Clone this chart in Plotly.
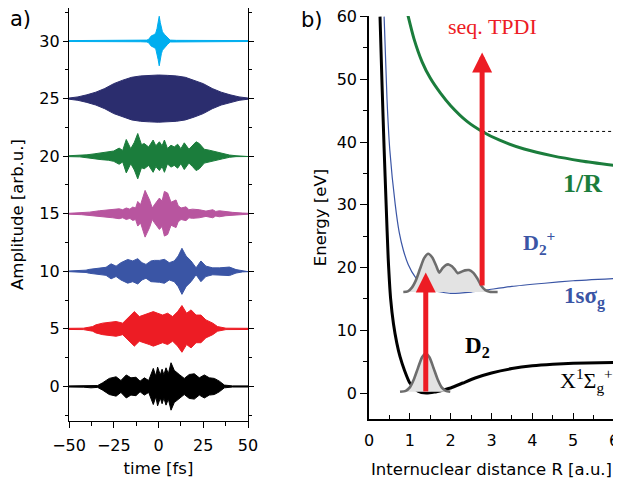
import plotly.graph_objects as go

# ---------------- panel a) data: envelope amplitudes of the pulses ----------------
offsets = [0, 5, 10, 15, 20, 25, 30]
colors = ["#000000", "#ed1c24", "#3a55a5", "#b8559f", "#1b7d3c", "#2b2d6e", "#00aeef"]

black_t = [-50, -42, -37.7, -34, -31.2, -27.5, -23.7, -21, -18, -15.4, -12.6, -10.3, -7.9, -5.5, -2.9, -1.5,
           -0.5, 1, 2, 3, 4.2, 5.5, 7, 8.8, 11.6, 14.4, 17.2, 20, 22.8, 25.6, 28.4, 31.2, 34, 36.8, 41.4, 50]
black_a = [0.05, 0.06, 0.12, 0.08, 0.32, 0.7, 0.84, 0.52, 1.0, 0.75, 0.8, 0.46, 0.75, 0.52, 1.57, 0.9,
           1.68, 1.0, 1.5, 1.0, 1.62, 1.1, 2.06, 1.4, 1.04, 0.7, 1.04, 1.1, 0.75, 1.0, 0.75, 0.7, 0.46, 0.12, 0.05, 0.05]

red_t = [-50, -42, -36.8, -35, -31.2, -27.5, -23.7, -20, -16.3, -13.5, -10.7, -7.9, -5.1, -2.9, -0.5, 2.3,
         5.1, 7.9, 10.7, 13.1, 15.7, 18.2, 21, 23.7, 26.5, 30.3, 33, 37.7, 50]
red_a = [0.05, 0.06, 0.2, 0.35, 0.5, 0.58, 0.64, 0.5, 1.07, 1.5, 1.07, 1.2, 1.36, 1.5, 1.36, 1.2,
         1.36, 1.07, 1.5, 2.03, 1.36, 1.65, 1.2, 1.2, 0.78, 0.5, 0.2, 0.06, 0.05]

blue_t = [-50, -45, -40.5, -38.6, -33, -29.3, -26.5, -23.7, -21, -17.2, -14.4, -11.6, -9.2, -7, -4.2, -2.3,
          0.5, 3.3, 6, 8.8, 11, 13.1, 15.4, 18.2, 21, 23.7, 26.5, 30.3, 34, 39.6, 43.3, 47, 50]
blue_a = [0.03, 0.05, 0.1, 0.17, 0.3, 0.35, 0.65, 0.45, 0.75, 1.03, 0.9, 1.1, 0.75, 0.6, 0.9, 0.95,
          0.95, 1.04, 0.75, 0.9, 1.33, 2.0, 1.33, 0.9, 0.3, 0.9, 0.45, 0.3, 0.3, 0.37, 0.15, 0.05, 0.03]

magenta_t = [-50, -43, -38.6, -33, -29, -25.6, -22, -20, -18, -16, -14.4, -12.8, -11.6, -10, -7.5, -5,
             -3.5, -2.3, 0.5, 2, 3.3, 5.1, 7, 9.8, 11, 12.6, 15.4, 17, 19, 22.8, 26.5, 30.3, 32, 34,
             37.7, 41.4, 47, 50]
magenta_a = [0.04, 0.08, 0.14, 0.26, 0.3, 0.35, 0.43, 0.35, 0.5, 0.4, 0.58, 0.5, 1.07, 0.8, 2.03, 1.2,
             0.5, 0.78, 1.36, 1.1, 1.94, 1.8, 1.0, 1.2, 0.7, 0.5, 0.6, 0.35, 0.4, 0.35, 0.23, 0.35, 0.2, 0.26,
             0.17, 0.12, 0.06, 0.04]

green_t = [-50, -44, -40, -36, -32, -28, -25, -22, -20, -18, -15.5, -13.5, -11.6, -9.5, -8, -5.5, -3,
           -1.5, 0.5, 2, 3.3, 5, 7, 8.8, 10.7, 12.5, 14.4, 17, 19, 21, 22.8, 25.6, 28.4, 32, 35.8, 39.6,
           43.3, 50]
green_a = [0.04, 0.06, 0.12, 0.2, 0.3, 0.35, 0.45, 0.7, 0.5, 1.45, 0.65, 1.2, 1.97, 1.0, 1.1, 0.8, 1.4,
           0.9, 1.25, 0.9, 1.4, 0.67, 0.95, 0.8, 1.04, 0.65, 1.16, 0.6, 0.9, 1.25, 1.1, 0.6, 0.52, 0.38, 0.23,
           0.1, 0.04, 0.03]

navy_t = [-50, -45, -40, -35, -30, -25, -20, -15, -10, -5, 0, 5, 10, 15, 20, 25, 30, 35, 40, 45, 50]
navy_a = [0.05, 0.15, 0.33, 0.56, 0.88, 1.3, 1.6, 1.85, 1.97, 2.02, 2.05, 2.02, 1.97, 1.85, 1.6, 1.3,
          0.88, 0.56, 0.33, 0.15, 0.05]

cyan_t = [-50, -20, -10, -6.5, -5.5, -4, -2.5, -1.5, -0.8, -0.2, 0.4, 1.0, 1.6, 2.2, 3.5, 5, 6.5, 10, 20, 50]
cyan_a = [0.04, 0.04, 0.06, 0.08, 0.15, 0.45, 0.55, 0.7, 1.1, 1.6, 2.15, 1.6, 1.1, 0.8, 0.55, 0.3, 0.08,
          0.06, 0.04, 0.04]

series_t = [black_t, red_t, blue_t, magenta_t, green_t, navy_t, cyan_t]
series_a = [black_a, red_a, blue_a, magenta_a, green_a, navy_a, cyan_a]

time_ticks = [-50, -25, 0, 25, 50]
amp_ticks = [0, 5, 10, 15, 20, 25, 30]

# ---------------- panel b) data: potential curves ----------------
d2_R = [0.27, 0.32, 0.37, 0.42, 0.47, 0.53, 0.60, 0.68, 0.76, 0.87, 1.0, 1.2, 1.4, 1.6, 1.8, 2.0, 2.3, 2.6,
        3.0, 3.5, 4.0, 4.5, 5.0, 6.0]
d2_E = [60, 49, 39, 30, 21.5, 15, 11, 8, 5.8, 3.6, 1.6, 0.3, 0.0, 0.15, 0.45, 0.8, 1.6, 2.4, 3.2, 3.9,
        4.35, 4.6, 4.75, 4.85]

d2p_R = [0.37, 0.44, 0.51, 0.64, 0.74, 0.84, 0.96, 1.13, 1.3, 1.6, 2.0, 2.5, 2.9, 3.5, 4.3, 5.0, 6.0]
d2p_E = [60, 47, 38.7, 30.2, 25.6, 22.8, 20.5, 18.5, 17.3, 16.3, 15.9, 16.1, 16.45, 17.0, 17.5, 17.9, 18.25]

coul_R = [0.95, 1.1, 1.3, 1.5, 1.75, 2.0, 2.4, 2.77, 3.2, 3.8, 4.5, 5.2, 6.0]
coul_E = [60.3, 56.5, 52.8, 50.2, 47.8, 45.8, 43.3, 41.7, 40.3, 38.9, 37.8, 37.0, 36.3]

# dotted threshold line
thr_R = [2.77, 6.0]
thr_E = [41.7, 41.7]

# wave packets (outline points)
wp_ground_R = [0.76, 0.9, 1.0, 1.1, 1.2, 1.3, 1.39, 1.48, 1.58, 1.68, 1.78, 1.88, 1.99]
wp_ground_E = [0.2, 0.35, 0.9, 2.2, 4.0, 5.7, 6.3, 5.7, 4.0, 2.2, 0.9, 0.35, 0.2]

wp_ion_R = [0.84, 0.95, 1.05, 1.15, 1.25, 1.35, 1.45, 1.55, 1.65, 1.72, 1.80, 1.88, 1.95, 2.03, 2.10,
            2.17, 2.25, 2.35, 2.45, 2.55, 2.65, 2.75, 2.85, 2.95, 3.15]
wp_ion_E = [16.1, 16.2, 16.8, 18.0, 19.8, 21.5, 22.2, 21.6, 20.2, 19.2, 19.9, 20.4, 20.5, 20.2, 19.7,
            19.1, 19.3, 19.55, 19.6, 19.2, 18.3, 17.1, 16.4, 16.15, 16.1]

# excitation arrows: R position, start energy, tip energy
arrow_R = [1.39, 2.77]
arrow_E0 = [0.0, 16.9]
arrow_E1 = [19.2, 54.3]

dist_ticks = [0, 1, 2, 3, 4, 5, 6]
energy_ticks = [0, 10, 20, 30, 40, 50, 60]

SANS = "DejaVu Sans"
SERIF = "Liberation Serif"

W, H = 621, 485
PAD = 8  # page body margin of the browser


def px(x):
    return min(max((x - PAD) / W, 0.0), 1.0)


def py(y):
    return min(max(1 - (y - PAD) / H, 0.0), 1.0)


fig = go.Figure()

# panel a traces
for off, col, ts, amps in zip(offsets, colors, series_t, series_a):
    upper = [off + a for a in amps]
    lower = [off - a for a in amps]
    fig.add_trace(go.Scatter(
        x=list(ts) + list(ts)[::-1], y=upper + lower[::-1],
        mode="lines", fill="toself", fillcolor=col,
        line=dict(color=col, width=1), hoverinfo="skip", showlegend=False,
        xaxis="x", yaxis="y"))

# panel b traces
fig.add_trace(go.Scatter(x=d2_R, y=d2_E, mode="lines", line=dict(color="black", width=3, shape="spline", smoothing=0.5),
                         showlegend=False, xaxis="x2", yaxis="y2"))
fig.add_trace(go.Scatter(x=d2p_R, y=d2p_E, mode="lines", line=dict(color="#3a55a5", width=1.2, shape="spline", smoothing=0.5),
                         showlegend=False, xaxis="x2", yaxis="y2"))
fig.add_trace(go.Scatter(x=coul_R, y=coul_E, mode="lines", line=dict(color="#1b7d3c", width=3, shape="spline", smoothing=0.6),
                         showlegend=False, xaxis="x2", yaxis="y2"))
fig.add_trace(go.Scatter(x=thr_R, y=thr_E, mode="lines", line=dict(color="black", width=1, dash="dot"),
                         showlegend=False, xaxis="x2", yaxis="y2"))
for wr, we in [(wp_ground_R, wp_ground_E), (wp_ion_R, wp_ion_E)]:
    fig.add_trace(go.Scatter(x=wr, y=we, mode="lines", fill="toself", fillcolor="#e3e3e3",
                             line=dict(color="#6d6d6d", width=2.6, shape="spline", smoothing=0.6),
                             showlegend=False, xaxis="x2", yaxis="y2"))

annotations = []
for r, e0, e1 in zip(arrow_R, arrow_E0, arrow_E1):
    annotations.append(dict(x=r, y=e1, ax=r, ay=e0, xref="x2", yref="y2", axref="x2", ayref="y2",
                            text="", showarrow=True, arrowhead=2, arrowsize=0.8, arrowwidth=5,
                            arrowcolor="#ed1c24", standoff=0))

annotations += [
    dict(text="a)", x=px(20), y=py(19), xref="paper", yref="paper", showarrow=False,
         xanchor="center", yanchor="middle", font=dict(family=SANS, size=21, color="black")),
    dict(text="b)", x=px(312), y=py(20), xref="paper", yref="paper", showarrow=False,
         xanchor="center", yanchor="middle", font=dict(family=SANS, size=21, color="black")),
    dict(text="seq. TPDI", x=3.02, y=58.4, xref="x2", yref="y2", showarrow=False,
         font=dict(family=SERIF, size=22, color="#ed1c24")),
    dict(text="<b>1/R</b>", x=5.22, y=33.4, xref="x2", yref="y2", showarrow=False,
         font=dict(family=SERIF, size=26, color="#1b7d3c")),
    dict(text="<b>D<sub>2</sub><sup>+</sup></b>", x=3.72, y=24.0, xref="x2", yref="y2", showarrow=False,
         xanchor="left", font=dict(family=SERIF, size=22, color="#3a55a5")),
    dict(text="<b>1sσ<sub>g</sub></b>", x=4.72, y=15.2, xref="x2", yref="y2", showarrow=False,
         xanchor="left", font=dict(family=SERIF, size=23, color="#3a55a5")),
    dict(text="<b>D<sub>2</sub></b>", x=2.30, y=7.4, xref="x2", yref="y2", showarrow=False,
         xanchor="left", font=dict(family=SERIF, size=23, color="black")),
    dict(text="X<sup>1</sup>Σ<sub>g</sub><sup>+</sup>", x=4.62, y=2.0, xref="x2", yref="y2", showarrow=False,
         xanchor="left", font=dict(family=SERIF, size=22, color="black")),
]

tickfont = dict(family=SANS, size=16, color="black")
titlefont = dict(family=SANS, size=16.5, color="black")

fig.update_layout(
    width=W, height=H,
    margin=dict(l=0, r=0, t=0, b=0),
    paper_bgcolor="white", plot_bgcolor="white",
    showlegend=False,
    annotations=annotations,
    xaxis=dict(domain=[px(69), px(248)], range=[-50, 50], tickvals=time_ticks, automargin=False,
               ticks="outside", ticklen=6, tickwidth=1.2, tickcolor="black",
               minor=dict(ticks="outside", ticklen=3.5, dtick=12.5, tickwidth=1.2, tickcolor="black"),
               showline=True, linecolor="black", linewidth=1.3, mirror="ticks",
               showgrid=False, zeroline=False, tickfont=tickfont,
               title=dict(text="time [fs]", font=titlefont, standoff=8),
               ticklabelstandoff=4),
    yaxis=dict(domain=[py(421), py(8)], range=[-3, 32.87], tickvals=amp_ticks, automargin=False,
               ticks="outside", ticklen=5, tickwidth=1.2, tickcolor="black",
               minor=dict(ticks="outside", ticklen=3, dtick=2.5, tickwidth=1.2, tickcolor="black"),
               showline=True, linecolor="black", linewidth=1.3, mirror="ticks",
               showgrid=False, zeroline=False, tickfont=tickfont, ticklabeloverflow="allow",
               title=dict(text="Amplitude [arb.u.]", font=titlefont, standoff=14)),
    xaxis2=dict(domain=[px(369), px(614)], range=[0, 6], tickvals=dist_ticks, anchor="y2", automargin=False,
                ticks="inside", ticklen=6, tickwidth=1.2, tickcolor="black",
                minor=dict(ticks="inside", ticklen=4, dtick=0.5, tickwidth=1.2, tickcolor="black"),
                showline=True, linecolor="black", linewidth=1.5,
                showgrid=False, zeroline=False, tickfont=tickfont, ticklabeloverflow="allow",
                title=dict(text="Internuclear distance R [a.u.]", font=titlefont, standoff=14),
                ticklabelstandoff=6),
    yaxis2=dict(domain=[py(419), py(16)], range=[-4.14, 60.1], tickvals=energy_ticks, anchor="x2", automargin=False,
                ticks="outside", ticklen=7, tickwidth=1.2, tickcolor="black",
                minor=dict(ticks="outside", ticklen=4, dtick=5, tickwidth=1.2, tickcolor="black"),
                showline=True, linecolor="black", linewidth=1.5,
                showgrid=False, zeroline=False, tickfont=tickfont, ticklabeloverflow="allow",
                title=dict(text="Energy [eV]", font=titlefont, standoff=6)),
)

fig.write_html("out.html")
